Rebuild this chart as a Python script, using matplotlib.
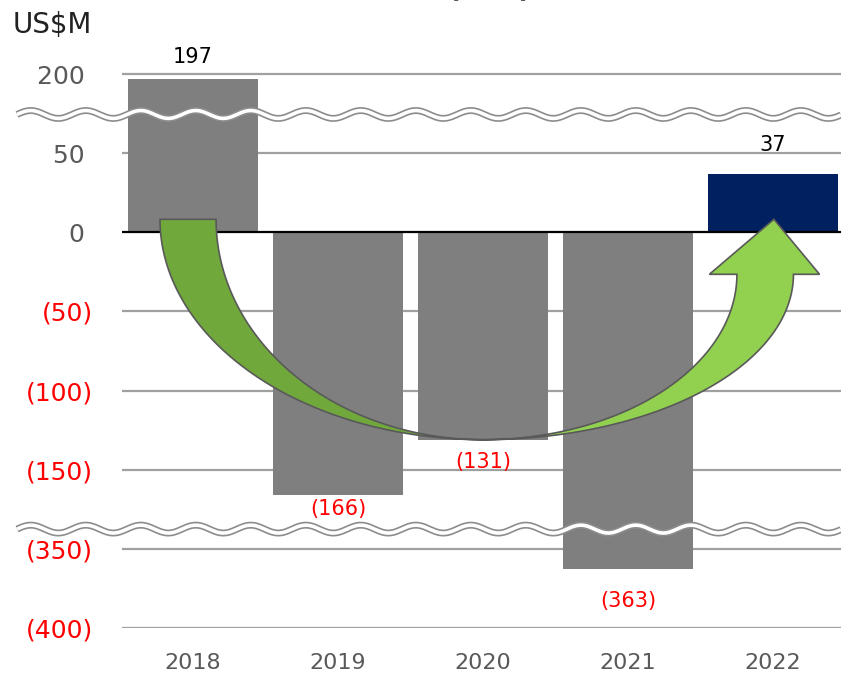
import numpy as np
import matplotlib.pyplot as plt
from matplotlib.patches import Polygon

years = ['2018', '2019', '2020', '2021', '2022']
values = [197, -166, -131, -363, 37]
bar_colors = ['#7f7f7f', '#7f7f7f', '#7f7f7f', '#7f7f7f', '#002060']
tick_values = [200, 50, 0, -50, -100, -150, -350, -400]
label_offsets = [16, -10, -16, -23, 21]   # points, per bar


def to_disp(v):
    # broken axis: squeeze out 75..150 on top and -188..-338 at the bottom
    if v > 75:
        return v / 50 - 2
    if v < -188:
        return v / 50 + 3
    return v / 50


def fmt(v):
    return '({:,})'.format(-v) if v < 0 else '{:,}'.format(v)


fig = plt.figure(figsize=(8.41, 6.74), dpi=100)
ax = fig.add_axes([122 / 841, 46 / 674, 719 / 841, 628 / 674])
ax.set_xlim(-0.49, 4.47)
ax.set_ylim(-5, 2 + 74 / 79)
for s in ax.spines.values():
    s.set_visible(False)

x = np.arange(len(years))
disp = [to_disp(v) for v in values]

# gridlines
for tv in tick_values:
    if tv != 0:
        ax.axhline(to_disp(tv), color='#a0a0a0', lw=1.6, zorder=0)
ax.axhline(0, color='black', lw=1.6, zorder=2)

ax.bar(x, disp, width=0.9, color=bar_colors, zorder=1)

# y ticks
ax.set_yticks([to_disp(t) for t in tick_values])
ax.set_yticklabels([fmt(t) if t < 0 else fmt(t) + ' ' for t in tick_values], fontsize=18)
for lab, tv in zip(ax.get_yticklabels(), tick_values):
    lab.set_color('#ff0000' if tv < 0 else '#595959')
ax.set_xticks(x)
ax.set_xticklabels(years, fontsize=16, color='#595959')
ax.tick_params(axis='y', length=0, pad=21)
ax.tick_params(axis='x', length=0, pad=18)

# value labels
for xi, v, d, off in zip(x, values, disp, label_offsets):
    ax.annotate(fmt(v), (xi, d), xytext=(0, off), textcoords='offset points',
                ha='center', va='center', fontsize=15,
                color='#ff0000' if v < 0 else 'black', zorder=6)

# curved arrow: left piece goes down into 2020, right piece climbs to 2022
top_y = 0.165
bx, by = x[2], disp[2]
t = np.linspace(0, np.pi / 2, 80)
a_out, a_in, b = bx - (x[0] - 0.228), bx - (x[0] + 0.159), top_y - by
left_out = np.column_stack([bx - a_out * np.cos(t), top_y - b * np.sin(t)])
left_in = np.column_stack([bx - a_in * np.cos(t), top_y - b * np.sin(t)])[::-1]
ax.add_patch(Polygon(np.vstack([left_out, left_in]), closed=True,
                     facecolor='#70a83b', edgecolor='#595959', lw=1.2, zorder=4))

shaft_y = -0.53
tip_x = x[4] + 0.007
b2 = shaft_y - by
r_out, r_in = (tip_x + 0.135) - bx, (tip_x - 0.255) - bx
right_out = np.column_stack([bx + r_out * np.sin(t), shaft_y - b2 * np.cos(t)])
right_in = np.column_stack([bx + r_in * np.sin(t), shaft_y - b2 * np.cos(t)])[::-1]
head = np.array([[tip_x + 0.315, shaft_y], [tip_x, top_y], [tip_x - 0.445, shaft_y]])
ax.add_patch(Polygon(np.vstack([right_out, head, right_in]), closed=True,
                     facecolor='#92d050', edgecolor='#595959', lw=1.2, zorder=4))

# axis break waves
wx = np.linspace(-0.146, 1.0, 600)
for yb in [1.49, -3.75]:
    wy = yb + 0.05 * np.sin(2 * np.pi * (wx + 0.146) / 0.0765)
    ax.plot(wx, wy, color='#8c8c8c', lw=5.0, transform=ax.get_yaxis_transform(),
            clip_on=False, zorder=5, solid_capstyle='butt')
    ax.plot(wx, wy, color='white', lw=2.6, transform=ax.get_yaxis_transform(),
            clip_on=False, zorder=5, solid_capstyle='butt')

fig.text(13 / 841, 1 - 25 / 674, 'US$M', fontsize=20, color='#222222', va='center')
fig.text(490 / 841, 1 + 10 / 674, '(      )', fontsize=20, fontweight='bold',
         color='#595959', ha='center', va='center')

fig.savefig('out.png', dpi=100)
